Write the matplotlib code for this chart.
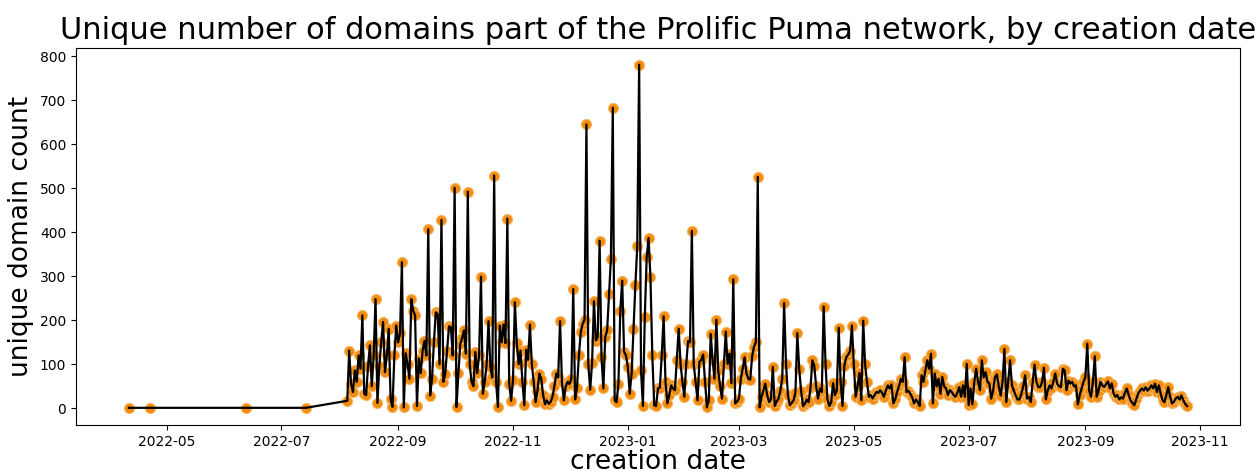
import matplotlib
matplotlib.use("Agg")
import matplotlib.pyplot as plt
import matplotlib.dates as mdates
import pandas as pd

# Sparse early observations
early_dates = ["2022-04-11", "2022-04-22", "2022-06-12", "2022-07-14"]
early_counts = [1, 1, 1, 1]

# Daily observations starting 2022-08-05
daily_start = "2022-08-05"
counts_2022 = [
    17, 131, 55, 37, 86, 60, 120, 90, 211, 33,
    30, 95, 143, 50, 120, 248, 12, 95, 150, 196,
    82, 120, 180, 20, 3, 120, 188, 150, 170, 332,
    2, 125, 100, 67, 248, 222, 211, 5, 113, 80,
    131, 153, 120, 407, 29, 67, 150, 218, 214, 100,
    428, 60, 78, 131, 186, 184, 120, 501, 3, 80,
    146, 160, 177, 124, 492, 100, 60, 50, 128, 80,
    120, 299, 33, 60, 100, 198, 94, 70, 529, 60,
    3, 188, 150, 190, 148, 431, 56, 17, 65, 241,
    148, 100, 131, 60, 7, 133, 110, 190, 100, 60,
    14, 40, 79, 67, 30, 9, 18, 10, 15, 26,
    50, 79, 70, 198, 60, 18, 50, 60, 55, 67,
    271, 20, 47, 120, 173, 192, 201, 645, 100, 42,
    103, 243, 154, 162, 381, 116, 45, 162, 177, 260,
    339, 683, 18, 14, 56, 222, 290, 128, 120,
]
counts_2023 = [
    94, 33, 79, 180, 280, 369, 781, 86, 5, 207,
    343, 387, 298, 120, 7, 5, 45, 47, 120, 209,
    60, 11, 30, 52, 45, 41, 109, 181, 100, 60,
    26, 100, 153, 150, 403, 100, 60, 18, 105, 110,
    122, 60, 2, 18, 169, 110, 67, 201, 86, 50,
    22, 100, 174, 101, 124, 57, 293, 11, 15, 22,
    67, 90, 116, 79, 67, 65, 118, 140, 150, 526,
    2, 26, 40, 56, 30, 14, 20, 94, 5, 15,
    22, 40, 67, 239, 100, 30, 7, 12, 18, 35,
    171, 90, 40, 5, 10, 20, 14, 45, 109, 97,
    50, 22, 45, 37, 231, 100, 20, 5, 14, 57,
    30, 41, 183, 60, 5, 97, 116, 122, 130, 188,
    100, 26, 50, 80, 18, 199, 100, 60, 26, 30,
    22, 30, 37, 35, 41, 35, 26, 40, 52, 45,
    54, 11, 20, 37, 50, 67, 60, 116, 37, 40,
    33, 25, 11, 20, 14, 5, 75, 60, 86, 109,
    90, 124, 11, 79, 50, 67, 33, 71, 50, 45,
    30, 41, 37, 30, 26, 35, 48, 26, 52, 26,
    101, 7, 45, 9, 60, 90, 60, 41, 109, 70,
    82, 60, 56, 22, 40, 71, 77, 50, 29, 60,
    135, 14, 60, 109, 52, 40, 29, 20, 20, 33,
    50, 75, 22, 26, 14, 60, 99, 60, 48, 48,
    60, 92, 20, 40, 52, 45, 60, 79, 56, 50,
    48, 90, 86, 41, 63, 56, 60, 50, 52, 9,
    30, 45, 60, 71, 147, 40, 26, 60, 118, 26,
    40, 60, 52, 48, 55, 61, 45, 56, 33, 26,
    30, 20, 25, 22, 35, 45, 30, 18, 12, 7,
    20, 33, 40, 45, 40, 48, 40, 45, 52, 45,
    56, 37, 52, 33, 18, 14, 30, 48, 26, 11,
    15, 22, 26, 20, 29, 18, 10, 5,
]

title = "Unique number of domains part of the Prolific Puma network, by creation date"
xlabel = "creation date"
ylabel = "unique domain count"

daily_counts = counts_2022 + counts_2023
daily_dates = pd.date_range(daily_start, periods=len(daily_counts), freq="D")
dates = list(pd.to_datetime(early_dates)) + list(daily_dates)
counts = early_counts + daily_counts

fig = plt.figure(figsize=(12.6, 4.75), dpi=100)
ax = fig.add_axes([0.0603, 0.1053, 0.9238, 0.7947])

ax.scatter(dates, counts, s=52, color="#f28c0f", edgecolor="#f7b560",
           linewidths=0.8, zorder=1)
ax.plot(dates, counts, color="black", linewidth=1.6, zorder=2)

ax.xaxis.set_major_locator(mdates.MonthLocator(bymonth=[1, 3, 5, 7, 9, 11]))
ax.xaxis.set_major_formatter(mdates.DateFormatter("%Y-%m"))
ax.set_yticks(range(0, 801, 100))

ax.set_title(title, fontsize=22)
ax.set_xlabel(xlabel, fontsize=19, labelpad=0)
ax.set_ylabel(ylabel, fontsize=19)

fig.savefig("out.png", dpi=100)
